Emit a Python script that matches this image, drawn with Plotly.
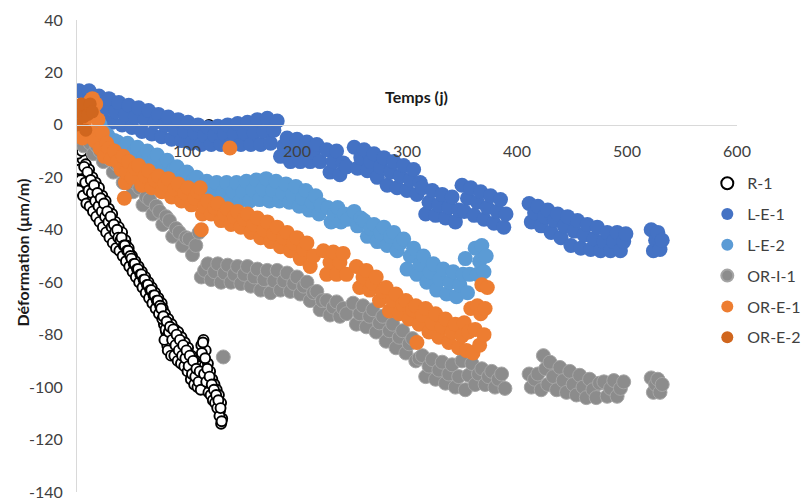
import plotly.graph_objects as go

# ---------------- data (day, strain µm/m) ----------------
series_names = ["R-1", "L-E-1", "L-E-2", "OR-I-1", "OR-E-1", "OR-E-2"]

r1_points = [
    (0, -9), (0, -16), (0, -23), (1, -12), (2, -20), (3, -14), (4, -24), (5, -13), (6, -19), (7, -26),
    (8, -15), (9, -22), (10, -28), (11, -17), (12, -24), (13, -29), (14, -20), (15, -26), (16, -31),
    (17, -22), (18, -28), (19, -33), (20, -24), (21, -30), (22, -35), (23, -27), (24, -32), (25, -37),
    (26, -29), (27, -34), (28, -39), (29, -32), (30, -36), (31, -41), (32, -34), (33, -38), (34, -42),
    (35, -37), (36, -40), (37, -44), (38, -39), (39, -42), (40, -46), (41, -41), (42, -44), (43, -48),
    (44, -44), (45, -46), (46, -50), (47, -47), (48, -49), (49, -52), (50, -50), (51, -52), (52, -55),
    (53, -52), (54, -54), (55, -57), (56, -54), (57, -56), (58, -59), (59, -56), (60, -58), (61, -61),
    (62, -58), (63, -60), (64, -63), (65, -60), (66, -62), (67, -65), (68, -62), (69, -64), (70, -67),
    (71, -64), (72, -66), (73, -69), (74, -66), (75, -68), (76, -71), (77, -68), (78, -70), (79, -76),
    (80, -72), (81, -79), (82, -84), (83, -74), (84, -80), (85, -86), (86, -76), (87, -81), (88, -86),
    (89, -78), (90, -83), (91, -88), (92, -79), (93, -84), (94, -89), (95, -81), (96, -86), (97, -90),
    (98, -83), (99, -87), (100, -91), (101, -85), (102, -90), (103, -94), (104, -88), (105, -92),
    (106, -97), (107, -90), (108, -94), (109, -98), (110, -92), (111, -96), (112, -100), (113, -84),
    (114, -88), (115, -82), (116, -92), (117, -86), (118, -95), (119, -91), (120, -99), (121, -94),
    (122, -101), (123, -97), (124, -102), (125, -99), (126, -104), (127, -101), (128, -106),
    (129, -103), (130, -109), (131, -106), (132, -112), (131, -114), (120, 0),
]

r1_points_half = [
    (0.5, -11), (1.5, -25), (2.5, -17), (3.5, -21), (4.5, -10), (5.5, -27), (6.5, -16), (7.5, -22),
    (8.5, -30), (9.5, -18), (10.5, -25), (11.5, -31), (12.5, -21), (13.5, -26), (14.5, -33),
    (15.5, -23), (16.5, -29), (17.5, -35), (18.5, -26), (19.5, -31), (20.5, -37), (21.5, -28),
    (22.5, -33), (23.5, -39), (24.5, -30), (25.5, -35), (26.5, -41), (27.5, -33), (28.5, -37),
    (29.5, -43), (30.5, -35), (31.5, -39), (32.5, -45), (33.5, -38), (34.5, -41), (35.5, -47),
    (36.5, -40), (37.5, -43), (38.5, -48), (39.5, -44), (40.5, -43), (41.5, -50), (42.5, -46),
    (43.5, -46), (44.5, -52), (45.5, -48), (46.5, -48), (47.5, -54), (48.5, -50), (49.5, -51),
    (50.5, -56), (51.5, -53), (52.5, -53), (53.5, -58), (54.5, -55), (55.5, -55), (56.5, -60),
    (57.5, -57), (58.5, -57), (59.5, -62), (60.5, -59), (61.5, -59), (62.5, -64), (63.5, -61),
    (64.5, -61), (65.5, -66), (66.5, -63), (67.5, -63), (68.5, -68), (69.5, -65), (70.5, -65),
    (71.5, -70), (72.5, -67), (73.5, -67), (74.5, -72), (75.5, -69), (76.5, -70), (77.5, -74),
    (78.5, -73), (79.5, -82), (80.5, -78), (81.5, -75), (82.5, -86), (83.5, -79), (84.5, -77),
    (85.5, -88), (86.5, -82), (87.5, -78), (88.5, -88), (89.5, -84), (90.5, -80), (91.5, -90),
    (92.5, -86), (93.5, -82), (94.5, -91), (95.5, -88), (96.5, -84), (97.5, -92), (98.5, -89),
    (99.5, -86), (100.5, -94), (101.5, -92), (102.5, -88), (103.5, -97), (104.5, -95), (105.5, -90),
    (106.5, -99), (107.5, -96), (108.5, -93), (109.5, -100), (110.5, -98), (111.5, -94),
    (112.5, -101), (113.5, -87), (114.5, -83), (115.5, -95), (116.5, -89), (117.5, -98), (118.5, -93),
    (119.5, -102), (120.5, -96), (121.5, -103), (122.5, -99), (123.5, -105), (124.5, -101),
    (125.5, -106), (126.5, -103), (127.5, -108), (128.5, -105), (129.5, -111), (130.5, -108),
    (131.5, -113),
]

le1_points = [
    (2, 13), (5, 5), (8, 10), (11, 13), (14, 4), (17, 8.5), (20, 11), (23, 2.5), (26, 6.5), (29, 10),
    (32, 1), (35, 5), (38, 8.5), (41, 0), (44, 4), (47, 7.5), (50, -1), (53, 3), (56, 6.5), (59, -2.5),
    (62, 2), (65, 5.5), (68, -3.5), (71, 1), (74, 4), (77, -4.5), (80, 0), (83, 3), (86, -5.5),
    (89, -1.5), (92, 2), (95, -6), (98, -2.5), (101, 1), (104, -7), (107, -3), (110, 0), (113, -7.5),
    (116, -4), (119, -1), (122, -7.5), (125, -4), (128, -0.5), (131, -7.5), (134, -3.5), (137, 0),
    (140, -7.5), (143, -3.5), (146, 0.5), (149, -7.5), (152, -3), (155, 1), (158, -7.5), (161, -3),
    (164, 2), (167, -7.5), (170, -2.5), (173, 2.5), (176, -7), (179, -2), (182, 1.5), (185, -12),
    (188, -8), (191, -5), (194, -14), (197, -9.5), (200, -5.5), (203, -14), (206, -10), (209, -6.5),
    (212, -14), (215, -10.5), (218, -7.5), (221, -14),
    (227, -9.5), (230, -18), (233, -14), (236, -10), (239, -19), (242, -14.5), (245, -16),
    (252, -8.5), (255, -16.5), (258, -12.5), (261, -9.5), (264, -17.5), (267, -14), (270, -11),
    (273, -20), (276, -16), (279, -12.5), (282, -23), (285, -18), (288, -14), (291, -24), (294, -19.5),
    (297, -15.5), (300, -25), (303, -21), (306, -17), (309, -26.5), (312, -22), (314, -24), (317, -34),
    (320, -29.5), (323, -25), (326, -34.5), (329, -30.5), (332, -26.5), (335, -35.5), (338, -31.5),
    (341, -27.5), (344, -37), (347, -32.5), (350, -23), (352, -33), (355, -28), (358, -24),
    (361, -34.5), (364, -29.5), (367, -25.5), (370, -36), (373, -31.5), (376, -27), (379, -37.5),
    (382, -33), (385, -28.5), (388, -39), (390, -34),
    (411, -30), (413, -37), (416, -33.5), (419, -31), (422, -38.5), (425, -35), (428, -32.5),
    (431, -41), (434, -36.5), (437, -34), (440, -43), (443, -38.5), (446, -35), (449, -46),
    (452, -40.5), (455, -36.5), (458, -47), (461, -42), (464, -38), (467, -47.5), (470, -43.5),
    (473, -39), (476, -48), (479, -44.5), (482, -41), (485, -48), (488, -44.5), (491, -41), (494, -48),
    (497, -44.5), (499, -41.5),
    (522, -40), (524, -48), (526, -44), (528, -41), (530, -47.5), (532, -44),
]

le2_points = [
    (21, 0), (23, -6), (25, -3), (28, -4), (31, -8), (34, -6), (37, -6.5), (40, -10.5), (43, -8.5),
    (46, -7), (49, -12.5), (52, -10), (55, -8.5), (58, -14.5), (61, -12), (64, -10), (67, -16),
    (70, -13.5), (73, -11.5), (76, -17.5), (79, -15), (82, -13.5), (85, -19), (88, -17), (91, -16),
    (94, -21), (97, -19), (100, -18), (103, -23.5), (106, -21), (109, -20), (112, -26), (115, -23.5),
    (118, -21.5), (121, -28), (124, -25), (127, -22), (130, -29), (133, -25.5), (136, -22), (139, -29),
    (142, -25.5), (145, -22), (148, -29), (151, -25.5), (154, -21.5), (157, -29), (160, -25),
    (163, -21), (166, -28.5), (169, -24.5), (172, -20.5), (175, -29), (178, -25), (181, -21.5),
    (184, -29), (187, -26), (190, -22.5), (193, -29.5), (196, -26.5), (199, -23.5), (202, -31),
    (205, -28), (208, -25), (211, -32.5), (214, -29.5), (217, -27), (220, -34), (222, -30.5),
    (228, -31.5), (231, -37), (234, -34), (237, -31.5), (240, -37), (243, -34), (246, -36),
    (252, -33), (255, -38.5), (258, -35.5), (261, -36.5), (264, -42.5), (267, -39.5), (270, -38),
    (273, -44.5), (276, -41), (279, -39), (282, -46), (285, -42.5), (288, -41), (291, -48), (294, -45),
    (297, -43.5), (300, -55), (303, -50), (306, -47), (309, -57), (312, -53), (315, -50), (318, -60),
    (321, -56), (324, -53), (327, -63), (330, -59), (333, -55), (336, -64.5), (339, -60), (342, -56),
    (345, -65.5), (348, -61), (351, -57), (353, -51), (355, -64), (357, -57),
    (362, -47), (364, -57), (366, -52), (368, -46), (370, -56), (372, -50),
]

ori1_points = [
    (3, -2), (6, -8), (9, -5), (12, -7), (15, -11), (18, -8), (21, -10), (24, -14), (27, -12), (30, -13),
    (33, -18), (36, -15), (39, -16), (42, -22), (45, -19), (48, -19.5), (51, -25.5), (54, -22.5),
    (57, -24), (60, -30.5), (63, -27.5), (66, -28.5), (69, -34), (72, -31), (75, -33), (78, -38),
    (81, -35), (84, -36.5), (87, -42.5), (90, -39.5), (93, -41), (96, -46), (99, -43), (102, -43.5),
    (105, -49.5), (108, -46), (111, -41), (113, -58), (116, -55.5), (119, -53), (122, -59), (125, -56),
    (128, -53), (131, -60), (134, -56.5), (137, -53.5), (140, -60), (143, -57), (146, -54),
    (149, -60.5), (152, -57), (155, -54), (158, -61.5), (161, -58), (164, -55), (167, -63), (170, -59),
    (173, -55.5), (176, -64), (179, -59.5), (182, -55.5), (185, -63), (188, -59.5), (191, -56.5),
    (194, -63.5), (197, -60.5), (200, -58), (203, -64.5), (206, -61.5), (209, -60), (212, -67),
    (215, -64), (218, -63.5), (221, -70.5), (223, -67),
    (227, -67), (230, -72.5), (233, -69.5), (236, -67.5), (239, -73), (242, -70), (245, -72),
    (251, -68), (254, -76), (257, -72), (260, -69), (263, -77), (266, -73), (269, -70.5), (272, -79),
    (275, -75.5), (278, -73), (281, -82.5), (284, -78.5), (287, -76), (290, -85), (293, -81),
    (296, -78.5), (299, -87), (302, -83.5), (305, -81.5), (308, -90), (311, -89), (314, -88),
    (317, -96), (320, -92), (323, -89.5), (326, -97), (329, -93.5), (332, -90.5), (335, -98.5),
    (338, -95), (341, -91.5), (344, -100), (347, -96), (350, -90), (353, -101), (356, -95.5),
    (359, -91), (362, -99), (365, -95), (368, -93), (371, -99), (374, -96), (377, -94), (380, -100),
    (383, -97), (386, -95), (389, -100.5),
    (411, -95), (413, -100), (416, -97), (419, -95), (422, -101), (424, -88), (426, -93), (428, -99),
    (430, -90.5), (433, -96), (436, -101), (439, -92.5), (442, -97.5), (445, -102), (448, -94),
    (451, -99), (454, -103), (457, -95.5), (460, -100), (463, -104), (466, -97), (469, -101),
    (472, -104), (475, -98.5), (479, -98), (482, -103.5), (485, -100.5), (488, -97.5), (491, -103.5),
    (494, -100.5), (497, -98),
    (522, -96.5), (524, -102), (526, -99), (528, -97), (530, -102), (532, -99),
    (133, -88.5),
]

ore1_points = [
    (0, 2.5), (1, -4), (2, -0.5), (4, 7.5), (5, -5), (6, 1), (8, 6), (9, -2), (10, 3), (12, 9), (13, -3),
    (14, 10), (15, 4), (16, -6), (17, 8), (19, 2), (21, -9), (23, -3), (25, -12), (27, -7), (29, -9),
    (31, -13), (34, -10), (37, -14), (40, -17), (42, -12), (43, -28), (44, -22), (45, -18), (47, -14),
    (50, -20), (53, -16.5), (56, -15.5), (59, -23), (62, -19.5), (65, -17.5), (68, -24), (71, -21),
    (74, -19.5), (77, -25.5), (80, -22.5), (83, -20.5), (86, -27.5), (89, -24.5), (92, -22.5), (95, -29),
    (98, -26), (101, -24), (104, -30.5), (107, -28), (110, -25.5), (112, -24), (113, -40), (114, -34),
    (116, -31), (119, -29), (122, -34), (125, -31.5), (128, -30), (131, -36.5), (134, -34), (137, -32),
    (140, -38), (143, -35), (146, -33), (149, -39), (152, -36), (155, -34), (158, -41), (161, -38),
    (164, -35.5), (167, -43), (170, -40), (173, -37), (176, -44.5), (179, -41.5), (182, -39),
    (185, -46.5), (188, -43), (191, -41), (194, -48), (197, -45), (200, -43), (203, -51), (206, -47.5),
    (209, -45), (212, -54), (215, -50),
    (224, -48), (227, -57), (230, -52.5), (233, -48.5), (236, -57), (239, -52.5), (242, -49), (245, -57),
    (254, -54), (257, -62), (260, -58), (263, -55.5), (266, -63), (269, -60.5), (272, -58), (275, -67),
    (278, -63.5), (281, -62), (284, -71), (287, -67), (290, -64.5), (293, -72), (296, -68.5), (299, -67),
    (302, -74), (305, -70.5), (308, -69), (309, -83), (311, -76), (314, -72.5), (317, -70), (320, -79),
    (323, -75.5), (326, -72), (329, -81), (332, -77), (335, -74), (338, -83), (341, -79), (344, -76),
    (347, -85), (350, -80.5), (352, -75.5), (354, -86), (356, -79), (358, -70), (360, -87), (362, -78),
    (364, -69), (366, -84), (367, -72), (368, -61), (370, -80), (371, -70), (373, -62),
    (139, -8.8),
]

ore2_points = [
    (0, 0), (2, 5), (4, 8), (6, 3), (8, -2), (10, 4), (12, 8), (14, 5),
]

# ---------------- figure ----------------
styles = {
    "R-1": dict(size=10, color="white", line=dict(color="#000000", width=1.9)),
    "L-E-1": dict(size=15, color="#4472C4", line=dict(color="#4472C4", width=0)),
    "L-E-2": dict(size=15, color="#5B9BD5", line=dict(color="#5B9BD5", width=0)),
    "OR-I-1": dict(size=14, color="#8c8c8c", line=dict(color="#a5a5a5", width=1)),
    "OR-E-1": dict(size=15, color="#ED7D31", line=dict(color="#ED7D31", width=0)),
    "OR-E-2": dict(size=13, color="#D0661E", line=dict(color="#D0661E", width=0)),
}
data = {
    "R-1": r1_points + r1_points_half, "L-E-1": le1_points, "L-E-2": le2_points,
    "OR-I-1": ori1_points, "OR-E-1": ore1_points, "OR-E-2": ore2_points,
}

fig = go.Figure()
for name in series_names:
    pts = data[name]
    fig.add_trace(go.Scatter(
        x=[p[0] for p in pts], y=[p[1] for p in pts], mode="markers", name=name,
        marker=styles[name], legendgroup=name,
    ))

y_ticks = [-140, -120, -100, -80, -60, -40, -20, 0, 20, 40]
x_ticks = [100, 200, 300, 400, 500, 600]
FONT = "Lato, Carlito, Calibri, sans-serif"

fig.update_layout(
    width=805, height=500,
    margin=dict(l=77, r=68, t=20, b=8, autoexpand=False),
    paper_bgcolor="white", plot_bgcolor="white",
    font=dict(family=FONT, size=16, color="#404040"),
    showlegend=True,
    legend=dict(x=0.955, y=0.69, xanchor="left", yanchor="top", tracegroupgap=7,
                itemsizing="constant",
                font=dict(size=16, color="#404040"), bgcolor="rgba(0,0,0,0)"),
    xaxis=dict(range=[0, 600], tickvals=x_ticks, ticktext=[str(v) for v in x_ticks],
               showgrid=False, zeroline=False, showline=True, linecolor="#d9d9d9", linewidth=1,
               anchor="free", position=140 / 180, ticks="", ticklabelstandoff=12,
               automargin=False),
    yaxis=dict(range=[-140, 40], tickvals=y_ticks, ticktext=[str(v) for v in y_ticks],
               showgrid=False, zeroline=False, showline=True, linecolor="#d9d9d9", linewidth=1,
               ticks="", ticklabelstandoff=10, automargin=False, ticklabeloverflow="allow"),
    annotations=[
        dict(text="<b>Temps (j)</b>", xref="paper", yref="paper", x=0.515, y=0.837,
             xanchor="center", yanchor="middle",
             showarrow=False, font=dict(size=16, color="#1a1a1a")),
        dict(text="<b>Déformation (µm/m)</b>", xref="paper", yref="paper", x=-0.083, y=0.508,
             xanchor="center", yanchor="middle",
             showarrow=False, textangle=-90, font=dict(size=16, color="#1a1a1a")),
    ],
)

fig.write_html("out.html", config={"displayModeBar": False},
               post_script="document.body.style.margin='0';")
